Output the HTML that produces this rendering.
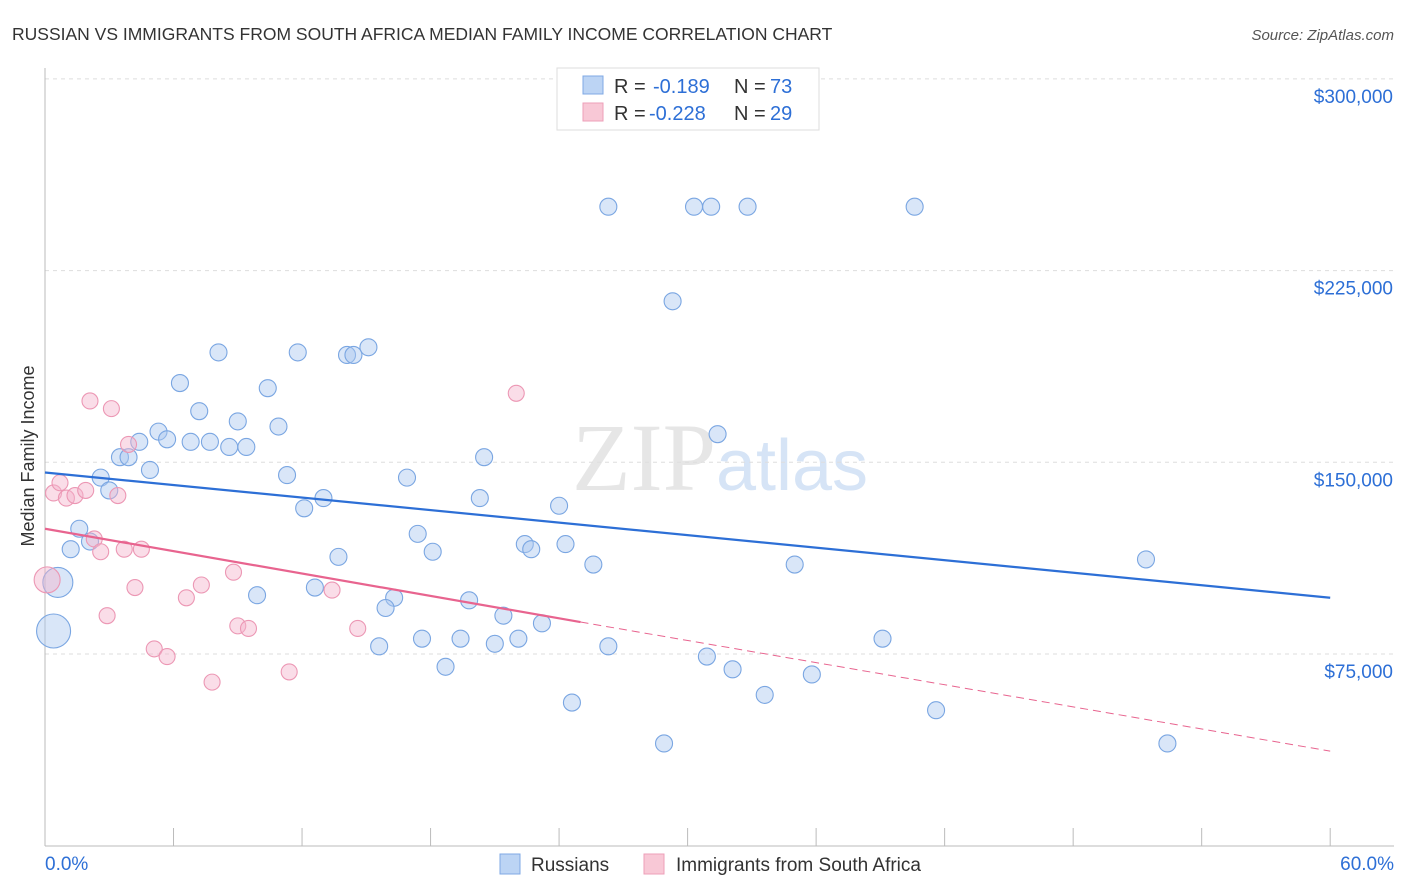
<!DOCTYPE html>
<html><head><meta charset="utf-8"><style>
body{margin:0;background:#fff;font-family:"Liberation Sans",sans-serif;}
svg{display:block}
</style></head><body>
<svg id="chart" width="1406" height="892" xmlns="http://www.w3.org/2000/svg">
<text x="12" y="40" font-size="17.5" fill="#333">RUSSIAN VS IMMIGRANTS FROM SOUTH AFRICA MEDIAN FAMILY INCOME CORRELATION CHART</text>
<text x="1394" y="40" font-size="15" fill="#555" text-anchor="end" font-style="italic">Source: ZipAtlas.com</text>
<text x="720" y="490" font-size="96" text-anchor="middle" fill="#e6e6e6" font-family="Liberation Serif,serif">ZIP<tspan fill="#d6e4f6" font-family="Liberation Sans,sans-serif" font-size="72">atlas</tspan></text>
<text transform="translate(34,456) rotate(-90)" font-size="18" fill="#333" text-anchor="middle">Median Family Income</text>
<g id="grid"></g><g id="marks"></g>
<g>
<rect x="557" y="68" width="262" height="62" fill="#fff" stroke="#ddd"/>
<rect x="583" y="76" width="20" height="18" fill="#bcd4f4" stroke="#7fa8e4"/>
<text x="614" y="93" font-size="20" fill="#333">R =</text>
<text x="653" y="93" font-size="20" fill="#2d6fd6">-0.189</text>
<text x="734" y="93" font-size="20" fill="#333">N =</text>
<text x="770" y="93" font-size="20" fill="#2d6fd6">73</text>
<rect x="583" y="103" width="20" height="18" fill="#f8c8d6" stroke="#ee9fb8"/>
<text x="614" y="120" font-size="20" fill="#333">R =</text>
<text x="649" y="120" font-size="20" fill="#2d6fd6">-0.228</text>
<text x="734" y="120" font-size="20" fill="#333">N =</text>
<text x="770" y="120" font-size="20" fill="#2d6fd6">29</text>
</g>
<g>
<rect x="500" y="854" width="20" height="20" fill="#bcd4f4" stroke="#7fa8e4"/>
<text x="531" y="871" font-size="19" fill="#333">Russians</text>
<rect x="644" y="854" width="20" height="20" fill="#f8c8d6" stroke="#ee9fb8"/>
<text x="676" y="871" font-size="19" fill="#333">Immigrants from South Africa</text>
</g>
</svg>
<script>
const yTicks=[75000,150000,225000,300000];
const yTickLabels=["$75,000","$150,000","$225,000","$300,000"];
const xTickLabels=["0.0%","60.0%"];
const russiansX=[26.3,30.3,31.1,32.8,40.6,29.3,8.1,11.8,14.1,14.4,15.1,6.3,10.4,7.2,9.0,10.9,5.3,4.4,5.7,6.8,7.7,8.6,9.4,31.4,3.5,3.9,4.9,2.6,11.3,16.9,20.5,3.0,13.0,12.1,20.3,24.0,1.6,2.1,1.2,17.4,18.1,22.4,22.7,24.3,13.7,25.6,35.0,51.4,0.6,9.9,12.6,16.3,15.9,19.8,21.4,23.2,0.4,17.6,19.4,21.0,22.1,15.6,26.3,39.1,18.7,30.9,32.1,35.8,33.6,24.6,41.6,28.9,52.4];
const russiansY=[250,250,250,250,250,213,193,193,192,192,195,181,179,170,166,164,162,158,159,158,158,156,156,161,152,152,147,144,145,144,152,139,136,132,136,133,124,119,116,122,115,118,116,118,113,110,110,112,103,98,101,97,93,96,90,87,84,81,81,79,81,78,78,81,70,74,69,67,59,56,53,40,40];
const saX=[0.1,0.4,0.7,1.0,1.4,1.9,2.1,3.1,3.9,3.4,2.3,2.6,3.7,4.5,4.2,2.9,6.6,7.3,8.8,13.4,5.1,5.7,9.0,9.5,7.8,11.4,14.6,22.0];
const saY=[104,138,142,136,137,139,174,171,157,137,120,115,116,116,101,90,97,102,107,100,77,74,86,85,64,68,85,177];
const X=v=>45+v*21.42, Y=v=>845.7-v*0.002556;
const NS="http://www.w3.org/2000/svg";
const svg=document.getElementById('chart'),grid=document.getElementById('grid'),marks=document.getElementById('marks');
function mk(t,a,p){const e=document.createElementNS(NS,t);for(const k in a)e.setAttribute(k,a[k]);(p||svg).appendChild(e);return e;}
yTicks.forEach((v,i)=>{
 const l=mk('line',{x1:45,x2:1394,y1:Y(v),y2:Y(v),stroke:'#ddd','stroke-dasharray':'4,4'},grid);
 
 
 const t=mk('text',{x:1393,y:Y(v)+24,'font-size':19,fill:'#2d6fd6','text-anchor':'end'},grid);t.textContent=yTickLabels[i];
 
 
});
mk('line',{x1:45,x2:45,y1:68,y2:846,stroke:'#bbb'},grid);
mk('line',{x1:45,x2:1394,y1:846,y2:846,stroke:'#bbb'},grid);
for(let i=0;i<=10;i++){const x=X(i*6);mk('line',{x1:x,x2:x,y1:828,y2:846,stroke:'#bbb'},grid);}
const xl0=mk('text',{x:45,y:870,'font-size':19,fill:'#2d6fd6'},grid);xl0.textContent=xTickLabels[0];


const xl1=mk('text',{x:1394,y:870,'font-size':19,fill:'#2d6fd6','text-anchor':'end'},grid);xl1.textContent=xTickLabels[1];


russiansX.forEach((x,i)=>{
 const r=(i==48)?15:(i==56?17:8.5);
 const c=mk('circle',{cx:X(x),cy:Y(russiansY[i]*1000),r:r,fill:'rgba(170,200,240,0.45)',stroke:'#7aa6e2','stroke-width':1.1},marks);
 
 
});
saX.forEach((x,i)=>{
 const r=i==0?13:8;
 const c=mk('circle',{cx:X(x),cy:Y(saY[i]*1000),r:r,fill:'rgba(245,180,205,0.45)',stroke:'#ec97b4','stroke-width':1.1},marks);
 
 
});
const bl=mk('line',{x1:X(0),y1:Y(146000),x2:X(60),y2:Y(97000),stroke:'#2d6fd6','stroke-width':2.2},marks);


const pl=mk('line',{x1:X(0),y1:Y(124000),x2:X(25),y2:Y(87500),stroke:'#e8648f','stroke-width':2.2},marks);


const pd=mk('line',{x1:X(25),y1:Y(87500),x2:X(60),y2:Y(37000),stroke:'#e8648f','stroke-width':1,'stroke-dasharray':'8,5'},marks);


</script>
</body></html>
